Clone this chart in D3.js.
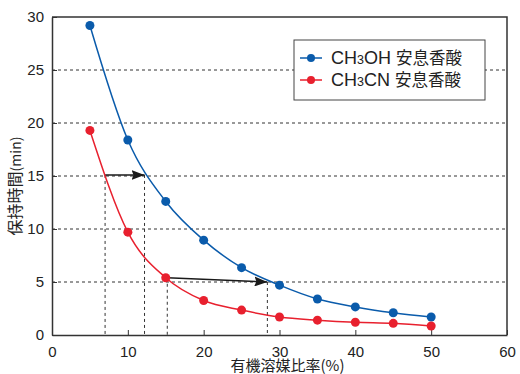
<!DOCTYPE html>
<html>
<head>
<meta charset="utf-8">
<script src="https://cdn.jsdelivr.net/npm/d3@7"></script>
<style>
  body { margin: 0; background: #fff; }
  text { font-family: "Liberation Sans", Arial, "Noto Sans CJK JP", sans-serif; fill: #222; }
  .jp { font-family: "Noto Sans CJK JP", sans-serif; }
</style>
</head>
<body>
<div id="chart"></div>
<script>
// organic solvent ratio (%)
var ratios = [5, 10, 15, 20, 25, 30, 35, 40, 45, 50];
// retention time (min)
var methanol = [29.2, 18.4, 12.6, 8.95, 6.35, 4.7, 3.4, 2.65, 2.1, 1.7];
var acetonitrile = [19.3, 9.7, 5.4, 3.25, 2.35, 1.7, 1.4, 1.2, 1.1, 0.85];
var xTicks = [0, 10, 20, 30, 40, 50, 60];
var yTicks = [0, 5, 10, 15, 20, 25, 30];
// guide arrows: [x from, y from, x to, y to]
var arrows = [[7.0, 15.1, 12.2, 15.1], [15.2, 5.4, 28.4, 5.0]];

const margin = {top: 17, right: 13, bottom: 39, left: 52},
    width = 520 - margin.left - margin.right,
    height = 374 - margin.top - margin.bottom;

const svg = d3.select("#chart")
    .append("svg")
    .attr("width", 520)
    .attr("height", 374)
    .append("g")
    .attr("transform", `translate(${margin.left},${margin.top})`);

const x = d3.scaleLinear().domain([0, 60]).range([0, width]);
const y = d3.scaleLinear().domain([0, 30]).range([height, 0]);

// arrow marker
svg.append("defs").append("marker")
    .attr("id", "arrowhead")
    .attr("viewBox", "0 0 13 10")
    .attr("refX", 13)
    .attr("refY", 5)
    .attr("markerWidth", 13)
    .attr("markerHeight", 10)
    .attr("markerUnits", "userSpaceOnUse")
    .attr("orient", "auto")
    .append("path")
    .attr("d", "M0,0 L13,5 L0,10 L2,5 Z")
    .attr("fill", "#1a1a1a");

// horizontal dashed grid
svg.append("g")
    .selectAll("line")
    .data(yTicks.filter(d => d > 0 && d < 30))
    .join("line")
    .attr("x1", 0)
    .attr("x2", width)
    .attr("y1", d => y(d))
    .attr("y2", d => y(d))
    .attr("stroke", "#333")
    .attr("stroke-width", 1)
    .attr("stroke-dasharray", "3,3");

// vertical dashed guides
svg.append("g")
    .selectAll("line")
    .data(arrows.flatMap(a => [[a[0], a[1]], [a[2], a[3]]]))
    .join("line")
    .attr("x1", d => x(d[0]))
    .attr("x2", d => x(d[0]))
    .attr("y1", d => y(d[1]))
    .attr("y2", y(0))
    .attr("stroke", "#333")
    .attr("stroke-width", 1)
    .attr("stroke-dasharray", "3,3");

// axes
svg.append("g")
    .attr("transform", `translate(0,${height})`)
    .call(d3.axisBottom(x).tickValues(xTicks).tickSize(-5).tickPadding(11).tickSizeOuter(0))
    .call(g => g.select(".domain").attr("stroke", "#333").attr("stroke-width", 1.5))
    .call(g => g.selectAll(".tick line").attr("stroke", "#333"))
    .call(g => g.selectAll(".tick text").attr("font-size", 15).attr("fill", "#222"));

svg.append("g")
    .call(d3.axisLeft(y).tickValues(yTicks).tickSize(-5).tickPadding(8).tickSizeOuter(0))
    .call(g => g.select(".domain").attr("stroke", "#333").attr("stroke-width", 1.5))
    .call(g => g.selectAll(".tick line").attr("stroke", "#333"))
    .call(g => g.selectAll(".tick text").attr("font-size", 15).attr("fill", "#222"));

// top and right frame
svg.append("path")
    .attr("d", `M0,0 H${width} V${height}`)
    .attr("fill", "none")
    .attr("stroke", "#333")
    .attr("stroke-width", 1.5);

// arrows
svg.append("g")
    .selectAll("line")
    .data(arrows)
    .join("line")
    .attr("x1", d => x(d[0]))
    .attr("y1", d => y(d[1]))
    .attr("x2", d => x(d[2]))
    .attr("y2", d => y(d[3]))
    .attr("stroke", "#1a1a1a")
    .attr("stroke-width", 1.5)
    .attr("marker-end", "url(#arrowhead)");

// series
const series = [
    {name: "CH3OH", values: methanol, color: "#0a5bab"},
    {name: "CH3CN", values: acetonitrile, color: "#e8202e"}
];

const line = d3.line()
    .x((d, i) => x(ratios[i]))
    .y(d => y(d))
    .curve(d3.curveMonotoneX);

series.forEach(function(s) {
    svg.append("path")
        .datum(s.values)
        .attr("fill", "none")
        .attr("stroke", s.color)
        .attr("stroke-width", 1.5)
        .attr("d", line);

    svg.append("g")
        .selectAll("circle")
        .data(s.values)
        .join("circle")
        .attr("cx", (d, i) => x(ratios[i]))
        .attr("cy", d => y(d))
        .attr("r", 4.5)
        .attr("fill", s.color);
});

// legend
const legend = svg.append("g").attr("transform", "translate(242,23)");
legend.append("rect")
    .attr("width", 191)
    .attr("height", 60)
    .attr("fill", "#fff")
    .attr("stroke", "#444")
    .attr("stroke-width", 1);

const items = legend.selectAll(".legend")
    .data(series)
    .join("g")
    .attr("class", "legend")
    .attr("transform", (d, i) => `translate(0,${18 + i * 22})`);

items.append("line")
    .attr("x1", 6).attr("x2", 28)
    .attr("stroke", d => d.color)
    .attr("stroke-width", 1.5);
items.append("circle")
    .attr("cx", 17)
    .attr("r", 4)
    .attr("fill", d => d.color);

const lt = items.append("text")
    .attr("x", 37)
    .attr("y", 6)
    .attr("font-size", 18);
lt.append("tspan").text("CH");
lt.append("tspan").attr("font-size", 12.5).text("3");
lt.append("tspan").text(d => d.name.slice(3) + " ");
lt.append("tspan").attr("class", "jp").attr("font-size", 16.5).text("安息香酸");

// axis labels
svg.append("text")
    .attr("class", "jp")
    .attr("x", width / 2 + 8)
    .attr("y", height + 36)
    .attr("text-anchor", "middle")
    .attr("font-size", 15)
    .text("有機溶媒比率(%)");

const yl = svg.append("text")
    .attr("class", "jp")
    .attr("transform", `translate(-31,${height / 2 + 10}) rotate(-90)`)
    .attr("text-anchor", "middle")
    .attr("font-size", 16);
yl.append("tspan").text("保持時間");
yl.append("tspan").attr("font-size", 14).text("(min)");
</script>
</body>
</html>
